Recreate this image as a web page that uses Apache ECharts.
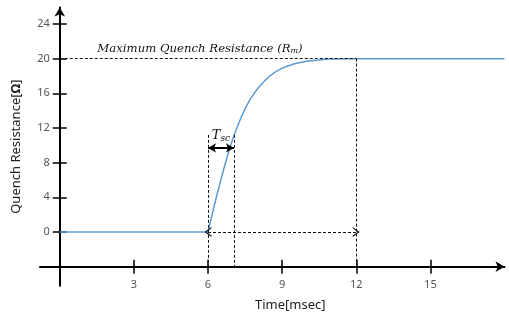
<!DOCTYPE html>
<html>
<head>
<meta charset="utf-8">
<script src="https://cdn.jsdelivr.net/npm/echarts@6/dist/echarts.min.js"></script>
<style>
  html, body { margin: 0; padding: 0; background: #fff; }
  #chart { width: 509px; height: 324px; }
</style>
</head>
<body>
<div id="chart"></div>
<script>
// quench resistance curve
const timeMs = [0, 6, 6.25, 6.5, 6.75, 7, 7.25, 7.5, 7.75, 8, 8.5, 9, 9.5, 10, 10.5, 11, 12, 15, 18];
const resistance = [0, 0, 3.0, 5.8, 8.4, 10.7, 12.6, 14.2, 15.5, 16.5, 18.0, 18.9, 19.4, 19.7, 19.85, 19.95, 20, 20, 20];

const xTicks = [3, 6, 9, 12, 15];
const yTicks = [0, 4, 8, 12, 16, 20, 24];

// annotation values
const rMax = 20;          // maximum quench resistance
const tStart = 6;         // quench start
const tscEnd = 7.05;      // end of T_sc
const tSettle = 12;       // curve reaches R_m
const tscLevel = 9.7;     // height of the T_sc arrow
const tscTop = 11.2;      // top of the T_sc guide lines
const xAxisAt = -4;       // where the time axis crosses

const xMin = -0.8, xMax = 18, yMin = -6.2, yMax = 25.9;
const grid = { left: 40, right: 4.5, top: 7.5, bottom: 38.3 };
const W = 509, H = 324;
const pxPerX = (W - grid.left - grid.right) / (xMax - xMin);
const pxPerY = (H - grid.top - grid.bottom) / (yMax - yMin);
const yAxisOffset = -(0 - xMin) * pxPerX;
const xAxisOffset = -(xAxisAt - yMin) * pxPerY;

const points = timeMs.map((t, i) => [t, resistance[i]]);
const startIdx = timeMs.indexOf(tStart);

const chevron = 'path://M0,10 L5,0 L10,10 L8.6,10 L5,2.8 L1.4,10 Z';
const dashed = { color: '#111', width: 1, type: [3, 2] };
const serif = '"DejaVu Serif", "Liberation Serif", serif';
const curveStyle = { color: '#5b9bd5', width: 1.5 };

const tickLen = 7;
const tickStyle = { color: '#000', width: 1.5 };
const labelFont = { color: '#555', fontSize: 11, fontFamily: '"Noto Sans", sans-serif' };

const chart = echarts.init(document.getElementById('chart'), null, { renderer: 'canvas' });

const option = {
  animation: false,
  grid: grid,
  xAxis: [
    {
      type: 'value', min: xMin, max: xMax, position: 'bottom', offset: xAxisOffset,
      axisLine: { show: true, onZero: false, lineStyle: { color: '#000', width: 2 }, symbol: ['none', 'arrow'], symbolSize: [8, 9] },
      axisTick: { show: true, length: tickLen, customValues: xTicks, lineStyle: tickStyle },
      axisLabel: Object.assign({ customValues: xTicks, margin: 13 }, labelFont),
      splitLine: { show: false },
      name: 'Time[msec]', nameLocation: 'middle', nameGap: 32,
      nameTextStyle: { color: '#222', fontSize: 13, fontFamily: '"Noto Sans", sans-serif', padding: [0, 0, 0, 36] }
    },
    {
      type: 'value', min: xMin, max: xMax, position: 'bottom', offset: xAxisOffset,
      axisLine: { show: false, onZero: false },
      axisTick: { show: true, inside: true, length: tickLen, customValues: xTicks, lineStyle: tickStyle },
      axisLabel: { show: false },
      splitLine: { show: false }
    }
  ],
  yAxis: [
    {
      type: 'value', min: yMin, max: yMax, position: 'left', offset: yAxisOffset,
      axisLine: { show: true, onZero: false, lineStyle: { color: '#000', width: 2 }, symbol: ['none', 'arrow'], symbolSize: [8, 9] },
      axisTick: { show: true, length: tickLen, customValues: yTicks, lineStyle: tickStyle },
      axisLabel: Object.assign({ customValues: yTicks, margin: 10 }, labelFont),
      splitLine: { show: false },
      name: '{a|Quench Resistance[}{b|Ω}{a|]}', nameLocation: 'middle', nameGap: 37,
      nameTextStyle: {
        rich: {
          a: { color: '#222', fontSize: 13, fontFamily: '"Noto Sans", sans-serif' },
          b: { color: '#222', fontSize: 13, fontWeight: 'bold', fontFamily: '"Noto Sans", sans-serif' }
        }
      }
    },
    {
      type: 'value', min: yMin, max: yMax, position: 'left', offset: yAxisOffset,
      axisLine: { show: false, onZero: false },
      axisTick: { show: true, inside: true, length: tickLen, customValues: yTicks, lineStyle: tickStyle },
      axisLabel: { show: false },
      splitLine: { show: false }
    }
  ],
  series: [
    {
      // flat part before the quench
      type: 'line',
      data: points.slice(0, startIdx + 1),
      showSymbol: false,
      lineStyle: curveStyle,
      silent: true,
      z: 3
    },
    {
      // rise towards R_m
      type: 'line',
      data: points.slice(startIdx),
      showSymbol: false,
      smooth: 0.4,
      lineStyle: curveStyle,
      silent: true,
      z: 3,
      markLine: {
        silent: true,
        animation: false,
        symbol: ['none', 'none'],
        label: { show: false },
        lineStyle: dashed,
        emphasis: { disabled: true },
        data: [
          // R_m level with its label
          [
            { coord: [0, rMax], label: {
                show: true, position: 'insideMiddleTop', distance: 4,
                formatter: '{i|Maximum Quench Resistance (}{r|R}{s|m}{i|)}',
                padding: [0, 16, 0, 0],
                rich: {
                  i: { fontFamily: serif, fontStyle: 'italic', fontSize: 11.7, color: '#111' },
                  r: { fontFamily: serif, fontStyle: 'italic', fontSize: 11.7, color: '#111' },
                  s: { fontFamily: serif, fontStyle: 'italic', fontSize: 8, color: '#111', verticalAlign: 'bottom', padding: [4, 0, 0, 0] }
                }
              } },
            { coord: [tSettle, rMax] }
          ],
          [{ coord: [tSettle, rMax] }, { coord: [tSettle, xAxisAt] }],
          [{ coord: [tStart, tscTop] }, { coord: [tStart, xAxisAt] }],
          [{ coord: [tscEnd, tscTop] }, { coord: [tscEnd, xAxisAt] }],
          // settling span at zero
          [
            { coord: [tStart, 0], symbol: chevron, symbolSize: [10, 7] },
            { coord: [tSettle, 0], symbol: chevron, symbolSize: [10, 7] }
          ],
          // T_sc arrow
          [
            { coord: [tStart, tscLevel], symbol: 'arrow', symbolSize: [7, 8],
              lineStyle: { color: '#000', width: 2, type: 'solid' },
              label: {
                show: true, position: 'middle', distance: 5,
                formatter: '{t|T}{s|sc}',
                rich: {
                  t: { fontFamily: serif, fontStyle: 'italic', fontSize: 13, color: '#111' },
                  s: { fontFamily: serif, fontStyle: 'italic', fontSize: 9, color: '#111', verticalAlign: 'bottom', padding: [5, 0, 0, 0] }
                }
              } },
            { coord: [tscEnd, tscLevel], symbol: 'arrow', symbolSize: [7, 8] }
          ]
        ]
      }
    }
  ]
};

chart.setOption(option);
</script>
</body>
</html>
